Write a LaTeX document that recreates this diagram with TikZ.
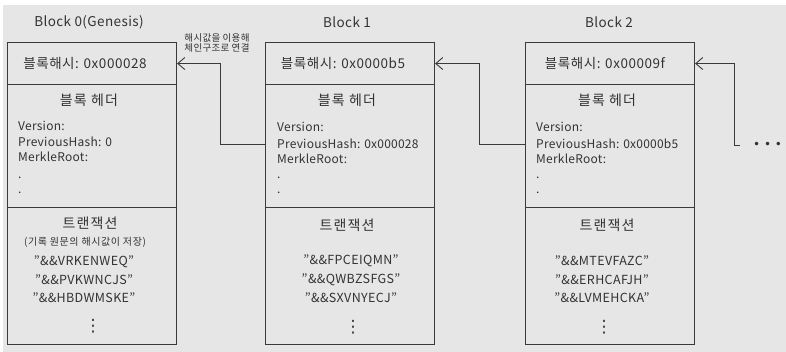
\documentclass[tikz,border=0pt]{standalone}
\usepackage{fontspec}
\setmainfont{Noto Sans CJK KR}
\newfontfamily\symfont{DejaVu Sans}
\usetikzlibrary{arrows.meta}
\tikzset{>={Straight Barb[length=7pt,width=12pt]}}
\definecolor{bggray}{HTML}{E6E6E6}
\definecolor{linegray}{HTML}{3A3A3A}
\definecolor{txtgray}{HTML}{333333}
\newcommand{\wide}[1]{\addfontfeature{LetterSpace=#1}}
\tikzset{
  part/.style={draw=linegray, line width=1.1pt, minimum width=169pt, inner sep=0pt, anchor=north west},
  title/.style={text=txtgray, font=\fontsize{13.5}{15}\selectfont\wide{3}},
  hashtxt/.style={text=txtgray, font=\fontsize{13.5}{15}\selectfont\wide{4}},
  head/.style={text=txtgray, font=\fontsize{14}{16}\selectfont\wide{8}},
  field/.style={text=txtgray, anchor=west, inner sep=0pt, font=\fontsize{12}{13}\selectfont\wide{2}},
  txitem/.style={text=txtgray, inner sep=0pt, font=\fontsize{12.5}{14}\selectfont\wide{3}},
  vdot/.style={text=txtgray, inner sep=0pt, font=\symfont\fontsize{17}{17}\selectfont},
  note/.style={text=txtgray, align=left, inner sep=0pt, font=\fontsize{9.5}{10}\selectfont\wide{3}},
  sub/.style={text=txtgray, inner sep=0pt, font=\fontsize{10}{11}\selectfont\wide{6}},
  chain/.style={draw=linegray, line width=0.9pt, ->}
}

\begin{document}
\begin{tikzpicture}[x=1pt,y=-1pt]

  \useasboundingbox (0,0) rectangle (786,352);
  \fill[white] (0,0) rectangle (786,352);
  \fill[bggray] (3,5) rectangle (786,352);

  % Block 0
  \node[title] (t0) at (89,22) {Block 0(Genesis)};
  \node[part, minimum height=42pt] (hash0) at (7,42) {};
  \node[part, minimum height=123pt] (head0) at (7,84) {};
  \node[part, minimum height=137pt] (tx0) at (7,207) {};
  \node[hashtxt] (h0) at (85,63) {블록해시: 0x000028};
  \node[head] (hd0) at (89,100) {블록 헤더};
  \node[field] (ver0) at (18,126) {Version:};
  \node[field] (prev0) at (18,142) {PreviousHash: 0};
  \node[field] (mrk0) at (18,157) {MerkleRoot:};
  \node[field] (da0) at (18,178) {.};
  \node[field] (db0) at (18,193) {.};
  \node[head] (tr0) at (90,223) {트랜잭션};
  \node[sub] (sub0) at (85,242) {(기록 원문의 해시값이 저장)};
  \node[txitem] (ta0) at (84,262) {"\&\&VRKENWEQ"};
  \node[txitem] (tb0) at (84,280) {"\&\&PVKWNCJS"};
  \node[txitem] (tc0) at (84,298) {"\&\&HBDWMSKE"};
  \node[vdot] (tv0) at (93,326) {⋮};

  % Block 1
  \node[title] (t1) at (347,22) {Block 1};
  \node[part, minimum height=42pt] (hash1) at (265,42) {};
  \node[part, minimum height=123pt] (head1) at (265,84) {};
  \node[part, minimum height=137pt] (tx1) at (265,207) {};
  \node[hashtxt] (h1) at (343,63) {블록해시: 0x0000b5};
  \node[head] (hd1) at (347,100) {블록 헤더};
  \node[field] (ver1) at (277,127) {Version:};
  \node[field] (prev1) at (277,144) {PreviousHash: 0x000028};
  \node[field] (mrk1) at (277,159) {MerkleRoot:};
  \node[field] (da1) at (277,178) {.};
  \node[field] (db1) at (277,193) {.};
  \node[head] (tr1) at (347,225) {트랜잭션};
  \node[txitem] (ta1) at (351,261) {"\&\&FPCEIQMN"};
  \node[txitem] (tb1) at (351,280) {"\&\&QWBZSFGS"};
  \node[txitem] (tc1) at (351,298) {"\&\&SXVNYECJ"};
  \node[vdot] (tv1) at (353,327) {⋮};

  % Block 2
  \node[title] (t2) at (609,22) {Block 2};
  \node[part, minimum height=42pt] (hash2) at (525,42) {};
  \node[part, minimum height=123pt] (head2) at (525,84) {};
  \node[part, minimum height=137pt] (tx2) at (525,207) {};
  \node[hashtxt] (h2) at (605,63) {블록해시: 0x00009f};
  \node[head] (hd2) at (607,100) {블록 헤더};
  \node[field] (ver2) at (536,127) {Version:};
  \node[field] (prev2) at (536,144) {PreviousHash: 0x0000b5};
  \node[field] (mrk2) at (536,159) {MerkleRoot:};
  \node[field] (da2) at (536,178) {.};
  \node[field] (db2) at (536,193) {.};
  \node[head] (tr2) at (607,225) {트랜잭션};
  \node[txitem] (ta2) at (602,261) {"\&\&MTEVFAZC"};
  \node[txitem] (tb2) at (602,280) {"\&\&ERHCAFJH"};
  \node[txitem] (tc2) at (602,298) {"\&\&LVMEHCKA"};
  \node[vdot] (tv2) at (604,327) {⋮};

  % links
  \node[note] (lbl) at (217,43) {해시값을 이용해\\체인구조로 연결};
  \draw[chain] (head1.west |- prev1) -- ++(-45,0) |- (hash0.east);
  \draw[chain] (head2.west |- prev2) -- ++(-46,0) |- (hash1.east);
  \node[vdot, anchor=west, font=\symfont\fontsize{12}{12}\selectfont] (more) at (753,145) {• • •};
  \coordinate (tail) at (740,145);
  \draw[chain] (tail) -- ++(-6,0) |- (hash2.east);

\end{tikzpicture}
\end{document}
